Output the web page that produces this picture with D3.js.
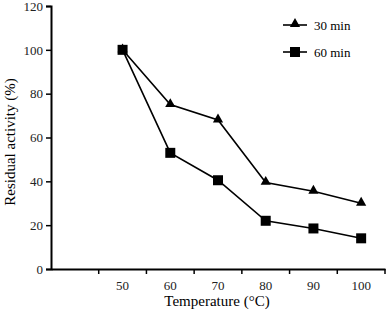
<!DOCTYPE html>
<html>
<head>
<meta charset="utf-8">
<script src="https://cdn.jsdelivr.net/npm/d3@7"></script>
<style>
body { margin: 0; background: #fff; }
text { font-family: "Liberation Serif", "Times New Roman", serif; }
</style>
</head>
<body>
<div class="canva"></div>
<script>
// data
const temps = ["", "50", "60", "70", "80", "90", "100"];
const temps30 = ["50", "60", "70", "80", "90", "100"];
const min30 = [100, 75, 68, 39.5, 35.5, 30];
const min60 = [100, 53, 40.5, 22, 18.5, 14];
const yTicks = [0, 20, 40, 60, 80, 100, 120];

const svg = d3.select(".canva").append("svg")
            .attr("width", 388)
            .attr("height", 313);

const margin = {top: 6, right: 3, bottom: 44, left: 51};
const graphWidth = 388 - margin.left - margin.right;
const graphHeight = 313 - margin.top - margin.bottom;

const mainCanvas = svg.append("g")
                      .attr("transform", `translate(${margin.left}, ${margin.top})`);

const x = d3.scaleBand().domain(temps).range([0, graphWidth]);
const y = d3.scaleLinear().domain([0, 120]).range([graphHeight, 0]);

// y axis
const yAxis = d3.axisLeft(y).tickValues(yTicks).tickSize(5).tickPadding(3);
const yg = mainCanvas.append("g").call(yAxis);
yg.select(".domain").attr("stroke-width", 2);
yg.selectAll(".tick line").attr("stroke-width", 1.5);
yg.selectAll("text").style("font-size", "13px").attr("fill", "#222");

// x axis: labels centred in bands, ticks on band edges
const xAxis = d3.axisBottom(x).tickSize(0).tickPadding(12);
const xg = mainCanvas.append("g")
          .attr("transform", `translate(0, ${graphHeight})`)
          .call(xAxis);
xg.select(".domain").attr("stroke-width", 2);
xg.selectAll("text").style("font-size", "13px").attr("fill", "#222");
xg.selectAll("edge")
  .data(temps.slice(1))
  .enter()
  .append("line")
  .attr("x1", d => x(d)).attr("x2", d => x(d))
  .attr("y1", 0).attr("y2", 5)
  .attr("stroke", "#000").attr("stroke-width", 1.5);
xg.append("line")
  .attr("x1", graphWidth).attr("x2", graphWidth)
  .attr("y1", 0).attr("y2", 5)
  .attr("stroke", "#000").attr("stroke-width", 1.5);

const cx = d => x(d) + x.bandwidth() / 2;

const line = d3.line()
  .x((d, i) => cx(temps30[i]))
  .y(d => y(d));

mainCanvas.append("path")
  .datum(min30)
  .attr("fill", "none").attr("stroke", "#000").attr("stroke-width", 1.6)
  .attr("d", line);
mainCanvas.append("path")
  .datum(min60)
  .attr("fill", "none").attr("stroke", "#000").attr("stroke-width", 1.6)
  .attr("d", line);

const tri = d3.symbol().type(d3.symbolTriangle).size(45);
const sq = d3.symbol().type(d3.symbolSquare).size(100);

mainCanvas.selectAll("triangles")
  .data(min30)
  .enter()
  .append("path")
  .attr("d", tri)
  .attr("transform", (d, i) => `translate(${cx(temps30[i])}, ${y(d) - 0.5})`)
  .attr("fill", "#000");

mainCanvas.selectAll("squares")
  .data(min60)
  .enter()
  .append("path")
  .attr("d", sq)
  .attr("transform", (d, i) => `translate(${cx(temps30[i])}, ${y(d)})`)
  .attr("fill", "#000");

// legend
const legend = svg.append("g");
legend.append("line").attr("x1", 283).attr("x2", 307).attr("y1", 25).attr("y2", 25)
  .attr("stroke", "#000").attr("stroke-width", 1.6);
legend.append("path").attr("d", tri).attr("transform", "translate(295, 24)").attr("fill", "#000");
legend.append("text").attr("x", 314).attr("y", 29.5).text("30 min").style("font-size", "13px");

legend.append("line").attr("x1", 283).attr("x2", 307).attr("y1", 52).attr("y2", 52)
  .attr("stroke", "#000").attr("stroke-width", 1.6);
legend.append("path").attr("d", sq).attr("transform", "translate(295, 52)").attr("fill", "#000");
legend.append("text").attr("x", 314).attr("y", 56.5).text("60 min").style("font-size", "13px");

// axis titles
svg.append("text")
  .attr("transform", "translate(15, 142) rotate(-90)")
  .attr("text-anchor", "middle")
  .style("font-size", "15px")
  .text("Residual activity (%)");

svg.append("text")
  .attr("x", 217).attr("y", 306)
  .attr("text-anchor", "middle")
  .style("font-size", "15px")
  .text("Temperature (°C)");
</script>
</body>
</html>
